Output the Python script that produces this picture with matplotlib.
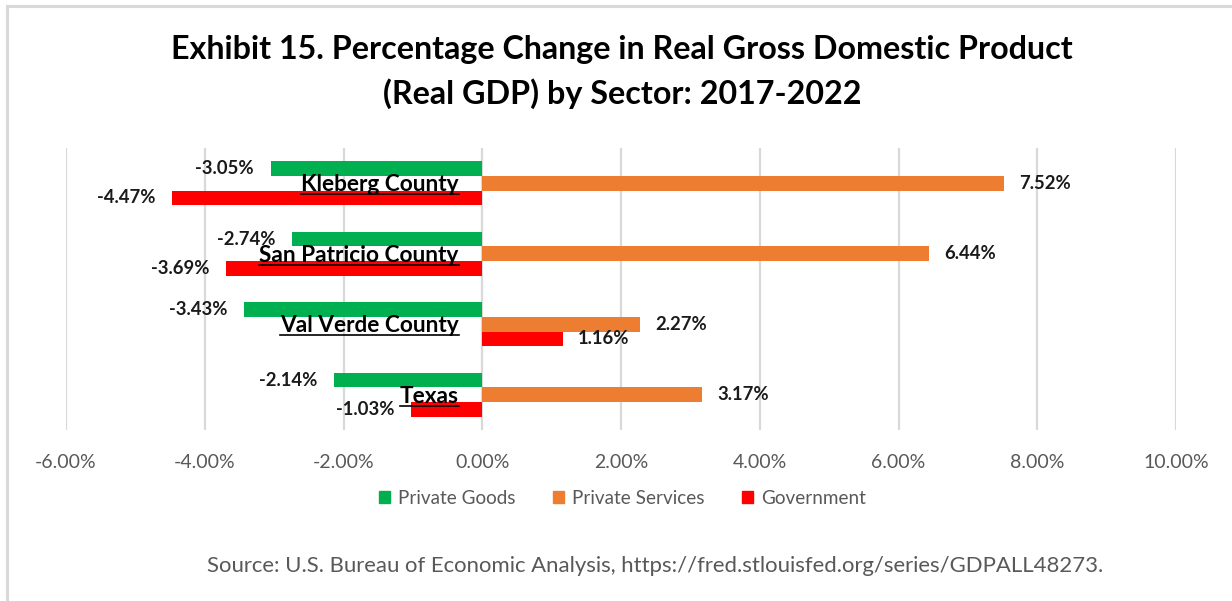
import matplotlib
matplotlib.use("Agg")
import matplotlib.pyplot as plt
from matplotlib.lines import Line2D
from matplotlib.patches import Patch
import numpy as np

# Real GDP percentage change by sector, 2017-2022
regions = ["Kleberg County", "San Patricio County", "Val Verde County", "Texas"]
private_goods = [-3.05, -2.74, -3.43, -2.14]
private_services = [7.52, 6.44, 2.27, 3.17]
government = [-4.47, -3.69, 1.16, -1.03]
series_names = ["Private Goods", "Private Services", "Government"]
series_colors = ["#00B050", "#ED7D31", "#FF0000"]
x_ticks = [-6, -4, -2, 0, 2, 4, 6, 8, 10]

FONT = "Lato"
W, H, DPI = 1232, 601, 100

fig = plt.figure(figsize=(W / DPI, H / DPI), dpi=DPI)
fig.patch.set_facecolor("white")

# light frame along the top and left edges
fig.add_artist(Line2D([7 / W, 7 / W], [0, 1 - 6 / H], color="#D9D9D9", lw=2.2,
                      transform=fig.transFigure))
fig.add_artist(Line2D([7 / W, 1], [1 - 6 / H, 1 - 6 / H], color="#D9D9D9", lw=2.2,
                      transform=fig.transFigure))

ax = fig.add_axes([66 / W, 1 - 430 / H, (1176 - 66) / W, (430 - 148) / H])

y = np.arange(len(regions))
bh = 0.206
all_series = [private_goods, private_services, government]
offsets = [-bh, 0, bh]
for vals, off, col, name in zip(all_series, offsets, series_colors, series_names):
    bars = ax.barh(y + off, vals, height=bh, color=col, label=name, zorder=3)
    for b, v in zip(bars, vals):
        yc = b.get_y() + b.get_height() / 2
        if v < 0:
            ax.annotate(f"{v:.2f}%", (v, yc), xytext=(-12, 0), textcoords="offset points",
                        ha="right", va="center", fontsize=13.3, fontweight="bold",
                        family=FONT, color="#1a1a1a", zorder=5)
        else:
            ax.annotate(f"{v:.2f}%", (v, yc), xytext=(11, 0), textcoords="offset points",
                        ha="left", va="center", fontsize=13.3, fontweight="bold",
                        family=FONT, color="#1a1a1a", zorder=5)

ax.set_xlim(-6, 10)
ax.set_ylim(len(regions) - 0.5, -0.5)
ax.set_xticks(x_ticks)
ax.set_xticklabels([f"{t:.2f}%" for t in x_ticks], family=FONT, fontsize=14,
                   color="#595959")
ax.tick_params(axis="x", length=0, pad=17)
ax.set_yticks([])
ax.grid(axis="x", color="#D9D9D9", lw=1.6, zorder=0)
for s in ax.spines.values():
    s.set_visible(False)

# region names sit beside the zero line, underlined
name_texts = []
for yi, name in zip(y, regions):
    t = ax.annotate(name, (0, yi), xytext=(-17, -1), textcoords="offset points",
                    ha="right", va="center", fontsize=16.3, fontweight="bold",
                    family=FONT, color="black", zorder=6)
    name_texts.append(t)

fig.text(0.505, 1 - 50 / H, "Exhibit 15. Percentage Change in Real Gross Domestic Product",
         ha="center", va="center", fontsize=23.2, fontweight="bold", family=FONT)
fig.text(0.505, 1 - 94 / H, "(Real GDP) by Sector: 2017-2022",
         ha="center", va="center", fontsize=23.2, fontweight="bold", family=FONT)

handles = [Patch(facecolor=c, edgecolor=c) for c in series_colors]
fig.legend(handles, series_names, loc="center", bbox_to_anchor=(0.505, 1 - 498 / H),
           ncol=3, frameon=False, handlelength=0.6, handleheight=0.6,
           handletextpad=0.4, columnspacing=2.0,
           prop={"family": FONT, "size": 13.6}, labelcolor="#595959")

fig.text(655 / W, 1 - 566 / H,
         "Source: U.S. Bureau of Economic Analysis, https://fred.stlouisfed.org/series/GDPALL48273.",
         ha="center", va="center", fontsize=15.9, family=FONT, color="#595959")

fig.canvas.draw()
renderer = fig.canvas.get_renderer()
for t in name_texts:
    bb = t.get_window_extent(renderer)
    yline = (bb.y0 + 1) / H
    fig.add_artist(Line2D([bb.x0 / W, bb.x1 / W], [yline, yline], color="black", lw=1.2,
                          transform=fig.transFigure, zorder=7))

fig.savefig("out.png", dpi=DPI, facecolor="white")
